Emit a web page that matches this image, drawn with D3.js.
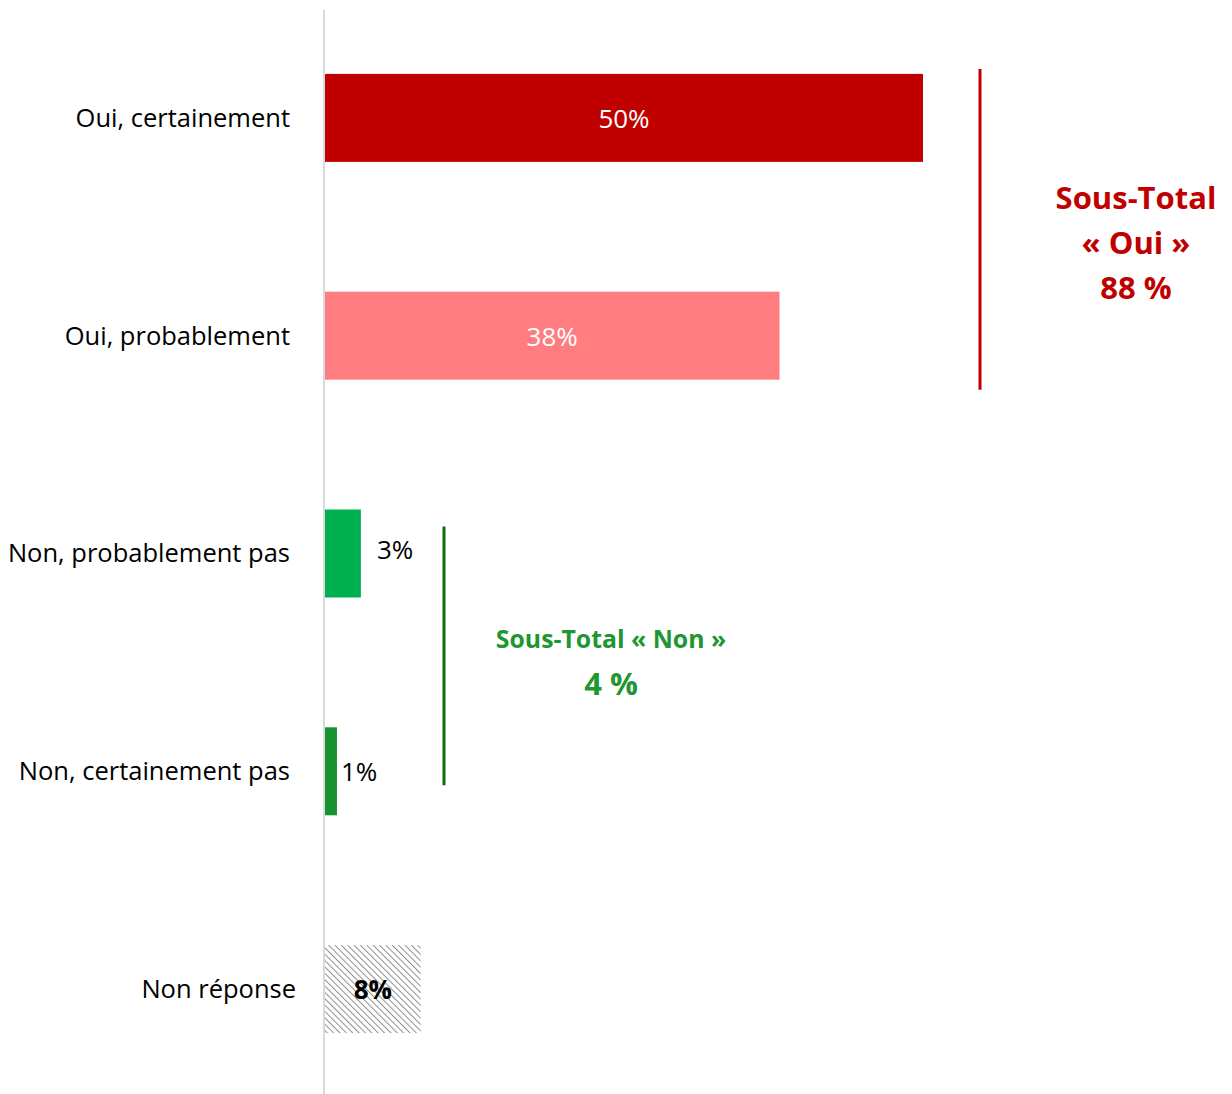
<!DOCTYPE html>
<html>
<head>
<meta charset="utf-8">
<script src="https://cdn.jsdelivr.net/npm/d3@7"></script>
<style>
  body { margin: 0; background: #fff; }
  text { font-family: "Open Sans", sans-serif; }
</style>
</head>
<body>
<div id="chart"></div>
<script>
// Data
const categories = ["Oui, certainement", "Oui, probablement", "Non, probablement pas", "Non, certainement pas", "Non réponse"];
const values = [50, 38, 3, 1, 8];
const valueLabels = ["50%", "38%", "3%", "1%", "8%"];
const barColors = ["#C00000", "#FF7C80", "#00B050", "#17922F", "url(#hatch)"];
const subTotalOui = ["Sous-Total", "« Oui »", "88 %"];
const subTotalNon = ["Sous-Total « Non »", "4 %"];

const width = 1232, height = 1094;

const svg = d3.select("#chart")
    .append("svg")
    .attr("width", width)
    .attr("height", height);

// hatch pattern for non réponse
const defs = svg.append("defs");
const pat = defs.append("pattern")
    .attr("id", "hatch")
    .attr("patternUnits", "userSpaceOnUse")
    .attr("width", 4.5)
    .attr("height", 4.5)
    .attr("patternTransform", "rotate(-45)");
pat.append("rect").attr("width", 4.5).attr("height", 4.5).attr("fill", "#fff");
pat.append("line")
    .attr("x1", 0).attr("y1", 0).attr("x2", 0).attr("y2", 4.5)
    .attr("stroke", "#8f8f8f")
    .attr("stroke-width", 2);

// Scales
const x = d3.scaleLinear()
    .domain([0, 50])
    .range([325, 923]);

const y = d3.scaleBand()
    .domain(categories)
    .range([9, 1098])
    .paddingInner(0.596)
    .paddingOuter(0.298);

// vertical axis line
svg.append("line")
    .attr("x1", 324).attr("x2", 324)
    .attr("y1", 10).attr("y2", height)
    .attr("stroke", "#d9d9d9")
    .attr("stroke-width", 2);

// category labels
svg.append("g")
    .selectAll("text")
    .data(categories)
    .join("text")
    .attr("x", (d, i) => i == 4 ? 296 : 290)
    .attr("y", d => y(d) + y.bandwidth() / 2)
    .attr("dy", "0.35em")
    .attr("text-anchor", "end")
    .style("font-size", "25.5px")
    .style("fill", "#000")
    .text(d => d);

// bars
svg.append("g")
    .selectAll("rect")
    .data(categories)
    .join("rect")
    .attr("x", x(0))
    .attr("y", d => y(d))
    .attr("width", (d, i) => x(values[i]) - x(0))
    .attr("height", y.bandwidth())
    .attr("fill", (d, i) => barColors[i]);

// value labels
svg.append("g")
    .selectAll("text")
    .data(categories)
    .join("text")
    .attr("x", (d, i) => {
        if (i < 2 || i == 4) return (x(0) + x(values[i])) / 2;
        return x(values[i]) + (i == 2 ? 16 : 4);
    })
    .attr("y", (d, i) => y(d) + y.bandwidth() / 2 + (i == 2 ? -4 : 1))
    .attr("dy", "0.35em")
    .attr("text-anchor", (d, i) => (i < 2 || i == 4) ? "middle" : "start")
    .style("font-size", "26px")
    .style("font-weight", (d, i) => i == 4 ? "bold" : "normal")
    .style("fill", (d, i) => i < 2 ? "#fff" : "#000")
    .text((d, i) => valueLabels[i]);

// bracket Oui
svg.append("line")
    .attr("x1", 980).attr("x2", 980)
    .attr("y1", y(categories[0]) - 5)
    .attr("y2", y(categories[1]) + y.bandwidth() + 10)
    .attr("stroke", "#C00000")
    .attr("stroke-width", 3);

svg.append("g")
    .selectAll("text")
    .data(subTotalOui)
    .join("text")
    .attr("x", 1136)
    .attr("y", (d, i) => 198 + i * 45)
    .attr("dy", "0.35em")
    .attr("text-anchor", "middle")
    .style("font-size", "31px")
    .style("font-weight", "bold")
    .style("fill", "#C00000")
    .text(d => d);

// bracket Non
svg.append("line")
    .attr("x1", 444).attr("x2", 444)
    .attr("y1", y(categories[2]) + 17)
    .attr("y2", y(categories[3]) + y.bandwidth() - 30)
    .attr("stroke", "#0E6E12")
    .attr("stroke-width", 3);

svg.append("g")
    .selectAll("text")
    .data(subTotalNon)
    .join("text")
    .attr("x", 611)
    .attr("y", (d, i) => 639 + i * 45)
    .attr("dy", "0.35em")
    .attr("text-anchor", "middle")
    .style("font-size", (d, i) => i == 0 ? "24.8px" : "31px")
    .style("font-weight", "bold")
    .style("fill", "#1E9632")
    .text(d => d);
</script>
</body>
</html>
